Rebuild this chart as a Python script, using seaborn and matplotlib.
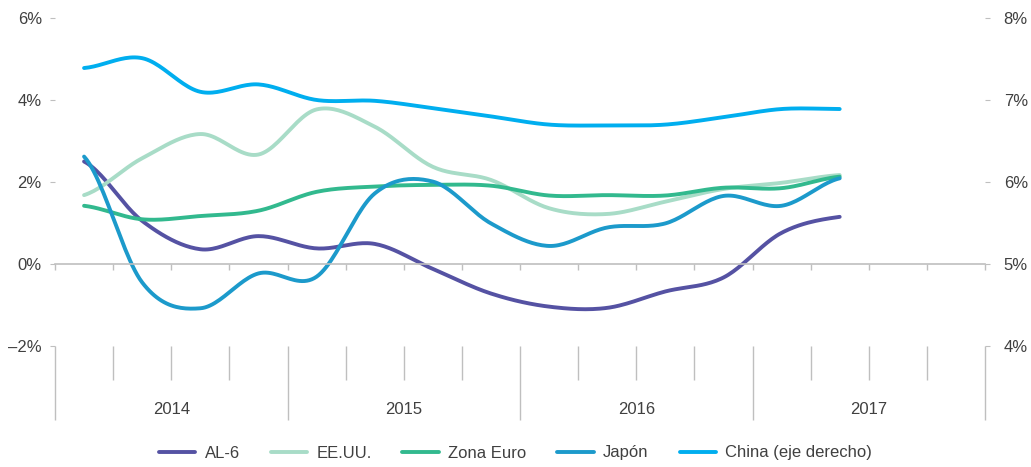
import matplotlib
matplotlib.use("Agg")
import matplotlib.pyplot as plt
import numpy as np
import seaborn as sns

sns.set_theme(style="white")
plt.rcParams["font.family"] = ["Liberation Sans", "DejaVu Sans"]

# Quarterly data, 2014 Q1 .. 2017 Q2 (y/y growth, %)
years = ["2014", "2015", "2016", "2017"]
al6 = [2.50, 1.05, 0.36, 0.68, 0.38, 0.49, -0.12, -0.72, -1.04, -1.07, -0.67, -0.33, 0.76, 1.15]
eeuu = [1.68, 2.58, 3.17, 2.67, 3.77, 3.35, 2.37, 2.05, 1.36, 1.22, 1.52, 1.83, 1.98, 2.17]
zona_euro = [1.42, 1.09, 1.17, 1.30, 1.76, 1.89, 1.93, 1.91, 1.67, 1.68, 1.67, 1.86, 1.85, 2.13]
japon = [2.62, -0.45, -1.08, -0.23, -0.31, 1.72, 2.01, 0.99, 0.44, 0.89, 0.99, 1.66, 1.42, 2.09]
china = [7.39, 7.51, 7.10, 7.19, 7.00, 6.99, 6.90, 6.80, 6.70, 6.69, 6.70, 6.79, 6.89, 6.89]

colors = {"AL-6": "#5552a3", "EE.UU.": "#a8dcc7", "Zona Euro": "#32b98e",
          "Japón": "#1c9acb", "China (eje derecho)": "#00aeef"}
grey = "#bfbfbf"
text_col = "#404040"

x = np.arange(len(al6)) + 0.5  # centre of each quarter slot


def smooth(xs, ys, n=24):
    # Catmull-Rom curve through the points (like Excel's smoothed line)
    xs = np.asarray(xs, float)
    ys = np.asarray(ys, float)
    px = np.concatenate([[2 * xs[0] - xs[1]], xs, [2 * xs[-1] - xs[-2]]])
    py = np.concatenate([[ys[0]], ys, [ys[-1]]])
    outx, outy = [], []
    t = np.linspace(0, 1, n, endpoint=False)
    for i in range(1, len(px) - 2):
        for p, out in ((px, outx), (py, outy)):
            p0, p1, p2, p3 = p[i - 1], p[i], p[i + 1], p[i + 2]
            out.extend(0.5 * (2 * p1 + (-p0 + p2) * t + (2 * p0 - 5 * p1 + 4 * p2 - p3) * t ** 2
                              + (-p0 + 3 * p1 - 3 * p2 + p3) * t ** 3))
    outx.append(xs[-1])
    outy.append(ys[-1])
    return np.array(outx), np.array(outy)


fig = plt.figure(figsize=(10.31, 4.67), dpi=100)
ax = fig.add_axes([55 / 1031, 1 - 346 / 467, 930 / 1031, 328 / 467])
ax2 = ax.twinx()

lw = 2.8
for name, vals in [("AL-6", al6), ("EE.UU.", eeuu), ("Zona Euro", zona_euro), ("Japón", japon)]:
    sx, sy = smooth(x, vals)
    sns.lineplot(x=sx, y=sy, ax=ax, color=colors[name], linewidth=lw, label=name,
                 sort=False, estimator=None)
sx, sy = smooth(x, china)
sns.lineplot(x=sx, y=sy, ax=ax2, color=colors["China (eje derecho)"], linewidth=lw,
             label="China (eje derecho)", sort=False, estimator=None)

ax.set_xlim(0, 16)
ax.set_ylim(-2, 6)
ax2.set_ylim(4, 8)

# y axes
ax.set_yticks([-2, 0, 2, 4, 6])
ax.set_yticklabels(["–2%", "0%", "2%", "4%", "6%"])
ax2.set_yticks([4, 5, 6, 7, 8])
ax2.set_yticklabels(["4%", "5%", "6%", "7%", "8%"])
ax.tick_params(axis="y", left=True, length=3.5, width=0.8, color=grey, pad=6,
               labelsize=12, labelcolor=text_col)
ax2.tick_params(axis="y", right=True, length=3.5, width=0.8, color=grey, pad=10,
                labelsize=12, labelcolor=text_col)

for a in (ax, ax2):
    for s in a.spines.values():
        s.set_visible(False)
    a.grid(False)

# zero line with quarter ticks
ax.spines["bottom"].set_visible(True)
ax.spines["bottom"].set_position(("data", 0))
ax.spines["bottom"].set_color(grey)
ax.spines["bottom"].set_linewidth(1.2)
ax.set_xticks(np.arange(17))
ax.set_xticklabels([])
ax.tick_params(axis="x", bottom=True, length=4.5, width=1, color=grey, direction="out")

# category axis below the plot
tr = ax.get_xaxis_transform()
quarter_pos = [i for i in range(17) if i % 4 != 0]
year_pos = [i for i in range(17) if i % 4 == 0]
ax.vlines(quarter_pos, -34 / 328, 0, transform=tr, color=grey, linewidth=1, clip_on=False)
ax.vlines(year_pos, -74 / 328, 0, transform=tr, color=grey, linewidth=1, clip_on=False)
for i, yr in enumerate(years):
    ax.text(4 * i + 2, -64 / 328, yr, transform=tr, ha="center", va="center",
            fontsize=12, color=text_col)

# legend
h1, l1 = ax.get_legend_handles_labels()
h2, l2 = ax2.get_legend_handles_labels()
ax.get_legend().remove()
ax2.get_legend().remove()
fig.legend(h1 + h2, l1 + l2, loc="center", bbox_to_anchor=(0.5, 1 - 453 / 467), ncol=5,
           frameon=False, fontsize=12, labelcolor=text_col, handlelength=2.2,
           handletextpad=0.55, columnspacing=1.85)

fig.savefig("out.png", dpi=100)
